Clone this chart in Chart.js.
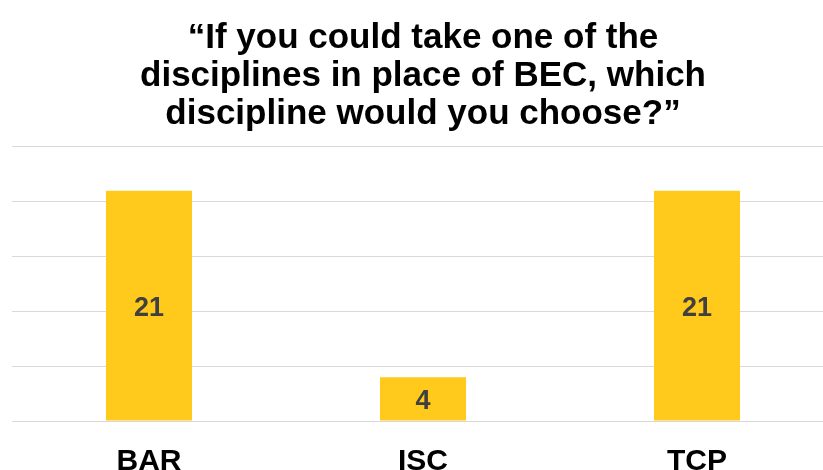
<!DOCTYPE html>
<html>
<head>
<meta charset="utf-8">
<script src="https://cdn.jsdelivr.net/npm/chart.js@4.4.0/dist/chart.umd.min.js"></script>
<style>
  html, body { margin: 0; padding: 0; background: #fff; overflow: hidden; }
  #wrap { width: 834px; height: 470px; position: relative; }
</style>
</head>
<body>
<div id="wrap"><canvas id="chart"></canvas></div>
<script>
const titleLines = ['\u201CIf you could take one of the', 'disciplines in place of BEC, which', 'discipline would you choose?\u201D'];
const categories = ['BAR', 'ISC', 'TCP'];
const votes = [21, 4, 21];

// etiquetas de valor centradas dentro de cada barra
const centerLabels = {
  id: 'centerLabels',
  afterDatasetsDraw(chart) {
    const { ctx } = chart;
    const meta = chart.getDatasetMeta(0);
    ctx.save();
    ctx.font = 'bold 27px "Liberation Sans", Arial, sans-serif';
    ctx.fillStyle = '#404040';
    ctx.textAlign = 'center';
    ctx.textBaseline = 'alphabetic';
    meta.data.forEach((bar, i) => {
      const { x, y, base } = bar.getProps(['x', 'y', 'base'], true);
      ctx.fillText(String(votes[i]), x, (y + base) / 2 + 10);
    });
    ctx.restore();
  }
};

new Chart(document.querySelector('#chart'), {
  type: 'bar',
  data: {
    labels: categories,
    datasets: [{
      data: votes,
      backgroundColor: '#FFCA1B',
      borderWidth: 0,
      categoryPercentage: 1,
      barPercentage: 0.314
    }]
  },
  options: {
    responsive: true,
    maintainAspectRatio: false,
    animation: false,
    layout: { padding: { left: 12, right: 0, top: 0, bottom: 0 } },
    plugins: {
      legend: { display: false },
      tooltip: { enabled: false },
      title: {
        display: true,
        text: titleLines,
        fullSize: false,
        color: '#000',
        font: { family: '"Liberation Sans", Arial, sans-serif', size: 35, weight: 'bold', lineHeight: 1.085 },
        padding: { top: 19, bottom: 14 }
      }
    },
    scales: {
      x: {
        grid: { display: false },
        border: { display: false },
        ticks: {
          color: '#000',
          padding: 15,
          font: { family: '"Liberation Sans", Arial, sans-serif', size: 30, weight: 'bold' }
        },
        afterFit: (scale) => { scale.height = 49; }
      },
      y: {
        min: 0,
        max: 25,
        ticks: { display: false, stepSize: 5 },
        grid: { color: '#d9d9d9', lineWidth: 1, drawTicks: false },
        border: { display: false },
        afterFit: (scale) => { scale.width = 0; }
      }
    }
  },
  plugins: [centerLabels]
});
</script>
</body>
</html>
